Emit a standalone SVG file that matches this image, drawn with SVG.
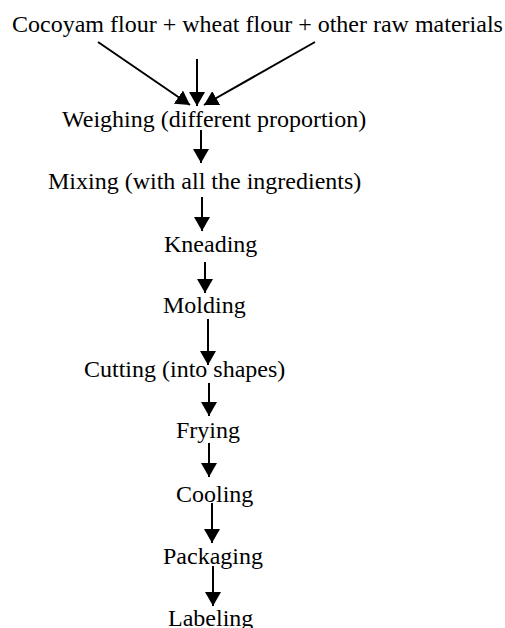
<svg xmlns="http://www.w3.org/2000/svg" width="505" height="628" viewBox="0 0 505 628">
<style>
.t{font-family:"Liberation Serif","Times New Roman",serif;font-size:24px;fill:#000}
.c line{stroke:#000;stroke-width:2;marker-end:url(#ah)}
</style>
<defs>
<marker id="ah" markerUnits="userSpaceOnUse" viewBox="0 0 14 16" markerWidth="14" markerHeight="16" refX="14" refY="8" orient="auto">
<path d="M0,0 L14,8 L0,16 z" fill="#000"/>
</marker>
</defs>
<rect width="505" height="628" fill="#fff"/>
<g id="n0"><text class="t" x="12" y="32">Cocoyam flour + wheat flour + other raw materials</text></g>
<g id="n1"><text class="t" x="62" y="127">Weighing (different proportion)</text></g>
<g id="n2"><text class="t" x="48" y="189">Mixing (with all the ingredients)</text></g>
<g id="n3"><text class="t" x="164" y="252">Kneading</text></g>
<g id="n4"><text class="t" x="163" y="313">Molding</text></g>
<g id="n5"><text class="t" x="84" y="377">Cutting (into shapes)</text></g>
<g id="n6"><text class="t" x="176" y="438">Frying</text></g>
<g id="n7"><text class="t" x="176" y="502">Cooling</text></g>
<g id="n8"><text class="t" x="163" y="564">Packaging</text></g>
<g id="n9"><text class="t" x="168" y="626">Labeling</text></g>
<g id="connectors" class="c">
<line x1="98" y1="42" x2="190" y2="105"/>
<line x1="197" y1="59" x2="197" y2="106"/>
<line x1="315" y1="42" x2="204" y2="105"/>
<line x1="201" y1="130" x2="201" y2="163"/>
<line x1="202" y1="197" x2="202" y2="231"/>
<line x1="205" y1="262" x2="205" y2="293"/>
<line x1="208" y1="319" x2="208" y2="365"/>
<line x1="209" y1="383" x2="209" y2="416"/>
<line x1="209" y1="443" x2="209" y2="477"/>
<line x1="212" y1="503" x2="212" y2="543"/>
<line x1="213" y1="566" x2="213" y2="606"/>
</g>
</svg>
